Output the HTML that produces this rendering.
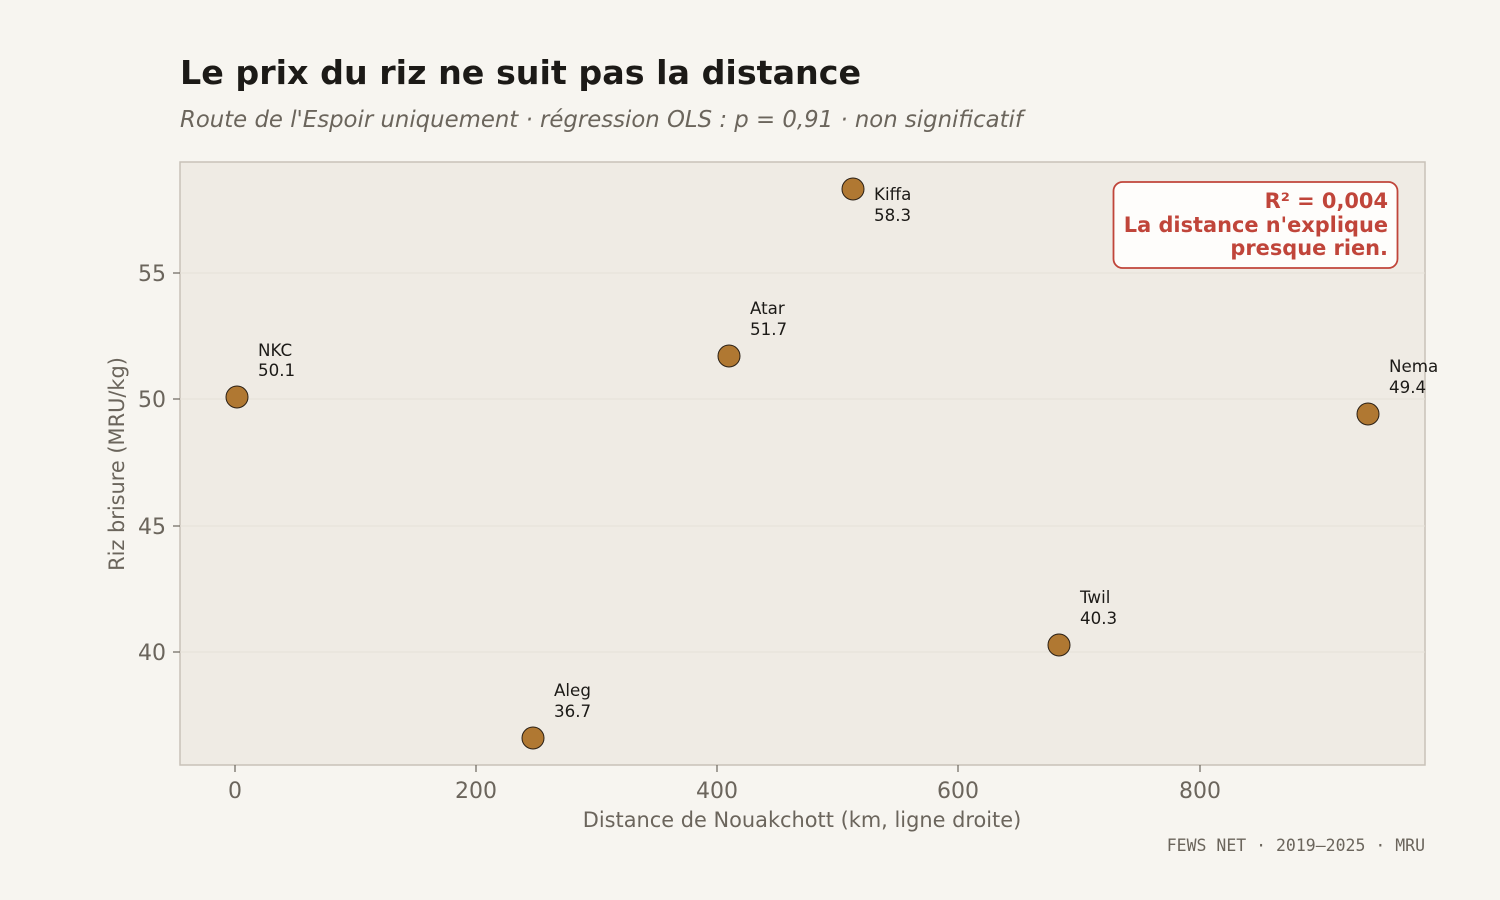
<!DOCTYPE html>
<html><head><meta charset="utf-8"><style>
html,body{margin:0;padding:0;background:#f7f5f0;}
svg{display:block;}
text{font-family:"DejaVu Sans","Liberation Sans",sans-serif;}
text.mono{font-family:"DejaVu Sans Mono","Liberation Mono",monospace;}
</style></head><body>
<svg width="1500" height="900" viewBox="0 0 1500 900" xmlns="http://www.w3.org/2000/svg">
<rect width="1500" height="900" fill="#f7f5f0"/>
<text x="180" y="84" font-size="33.3" font-weight="bold" fill="#1c1a17">Le prix du riz ne suit pas la distance</text>
<text x="180" y="127" font-size="22.8" font-style="italic" fill="#6b655c">Route de l'Espoir uniquement · régression OLS : p = 0,91 · non significatif</text>
<rect x="180" y="162" width="1245" height="603" fill="#efebe4" stroke="#c8c2b8" stroke-width="1.5"/>
<g stroke="#e6e1d8" stroke-width="1">
<line x1="180" x2="1425" y1="273" y2="273"/>
<line x1="180" x2="1425" y1="399" y2="399"/>
<line x1="180" x2="1425" y1="526" y2="526"/>
<line x1="180" x2="1425" y1="652" y2="652"/>
</g>
<g stroke="#6b655c" stroke-width="1.2">
<line x1="173" x2="180" y1="273" y2="273"/>
<line x1="173" x2="180" y1="399" y2="399"/>
<line x1="173" x2="180" y1="526" y2="526"/>
<line x1="173" x2="180" y1="652" y2="652"/>
<line x1="235" x2="235" y1="765" y2="772"/>
<line x1="476" x2="476" y1="765" y2="772"/>
<line x1="717" x2="717" y1="765" y2="772"/>
<line x1="958" x2="958" y1="765" y2="772"/>
<line x1="1200" x2="1200" y1="765" y2="772"/>
</g>
<g font-size="22" fill="#6b655c" text-anchor="end">
<text x="166" y="281">55</text><text x="166" y="407">50</text><text x="166" y="534">45</text><text x="166" y="660">40</text>
</g>
<g font-size="22" fill="#6b655c" text-anchor="middle">
<text x="235" y="798">0</text><text x="476" y="798">200</text><text x="717" y="798">400</text><text x="958" y="798">600</text><text x="1200" y="798">800</text>
</g>
<text x="802" y="827" font-size="20.9" fill="#6b655c" text-anchor="middle">Distance de Nouakchott (km, ligne droite)</text>
<text transform="translate(124,464) rotate(-90)" font-size="20.9" fill="#6b655c" text-anchor="middle">Riz brisure (MRU/kg)</text>
<text class="mono" x="1425" y="851" font-size="16.5" fill="#6b655c" text-anchor="end">FEWS NET · 2019–2025 · MRU</text>
<g fill="#b07832" stroke="#2a2016" stroke-width="1">
<circle cx="237" cy="397" r="11"/><circle cx="533" cy="738" r="11"/><circle cx="729" cy="356" r="11"/>
<circle cx="853" cy="189" r="11"/><circle cx="1059" cy="645" r="11"/><circle cx="1368" cy="414" r="11"/>
</g>
<g font-size="16.7" fill="#1c1a17">
<text x="258" y="356">NKC</text><text x="258" y="376">50.1</text>
<text x="554" y="696">Aleg</text><text x="554" y="717">36.7</text>
<text x="750" y="314">Atar</text><text x="750" y="335">51.7</text>
<text x="874" y="200">Kiffa</text><text x="874" y="221">58.3</text>
<text x="1080" y="603">Twil</text><text x="1080" y="624">40.3</text>
<text x="1389" y="372">Nema</text><text x="1389" y="393">49.4</text>
</g>
<rect x="1113.5" y="182" width="284" height="86" rx="9" fill="#fefdfb" stroke="#c0453a" stroke-width="1.8"/>
<g font-size="20.9" font-weight="bold" fill="#c0453a" text-anchor="end">
<text x="1388" y="208">R² = 0,004</text>
<text x="1388" y="232">La distance n'explique</text>
<text x="1388" y="255">presque rien.</text>
</g>
</svg>
</body></html>
